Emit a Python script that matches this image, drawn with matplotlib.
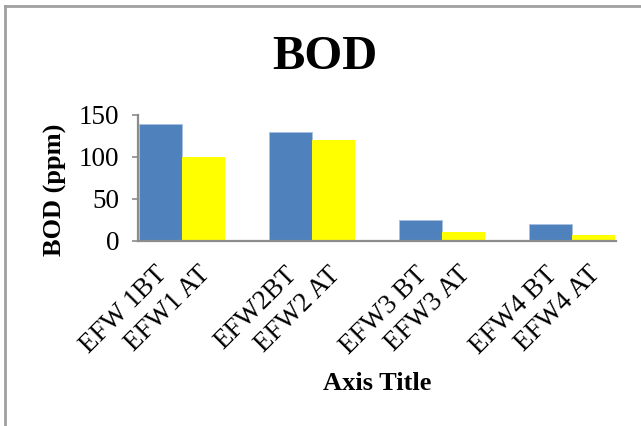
import matplotlib
matplotlib.use("Agg")
import matplotlib.pyplot as plt
import matplotlib.transforms as mtransforms
import numpy as np

# ── Données ────────────────────────────────────────────────────────────────────
echantillons = ["EFW1", "EFW2", "EFW3", "EFW4"]
bod_avant = [139, 130, 25, 20]     # BT (avant traitement)
bod_apres = [100, 120, 11, 7]      # AT (après traitement)
etiquettes = ["EFW 1BT", "EFW1 AT", "EFW2BT", "EFW2 AT",
              "EFW3 BT", "EFW3 AT", "EFW4 BT", "EFW4 AT"]
graduations_y = [0, 50, 100, 150]

BLEU = "#4F81BD"
JAUNE = "#FFFF00"
GRIS = "#8C8C8C"

plt.rcParams["font.family"] = ["Liberation Serif", "DejaVu Serif"]

W, H = 641, 426
fig = plt.figure(figsize=(W / 100, H / 100), dpi=100)

# axes en pixels : x 138 → 616, y 115 → 241 (depuis le haut)
ax = fig.add_axes([138 / W, (H - 241) / H, (616 - 138) / W, (241 - 115) / H])

x = np.arange(len(echantillons))
larg = 0.33
ax.bar(x - larg / 2, bod_avant, width=larg, color=BLEU,
       edgecolor="#A9C1E0", linewidth=0.6, zorder=2)
ax.bar(x + larg / 2, bod_apres, width=larg, color=JAUNE, linewidth=0, zorder=2)

ax.set_xlim(-0.34, len(echantillons) - 1 + 0.34)
ax.set_ylim(0, 150)
ax.set_yticks(graduations_y)
ax.tick_params(axis="y", labelsize=19.5, length=4.5, width=1.2, color=GRIS, pad=9)

positions = np.ravel(np.column_stack([x - larg / 2, x + larg / 2]))
ax.set_xticks(positions)
ax.set_xticklabels(etiquettes, rotation=45, ha="right",
                   rotation_mode="anchor", fontsize=19.5)
ax.tick_params(axis="x", length=0, pad=15)
# léger décalage vers la gauche des étiquettes inclinées
decal = mtransforms.ScaledTranslation(-6 / 100, 0, fig.dpi_scale_trans)
for lbl in ax.get_xticklabels():
    lbl.set_transform(lbl.get_transform() + decal)

for cote in ("top", "right"):
    ax.spines[cote].set_visible(False)
for cote in ("left", "bottom"):
    ax.spines[cote].set_color(GRIS)
    ax.spines[cote].set_linewidth(1.6)

# titres
fig.text(325 / W, 1 - 57 / H, "BOD", ha="center", va="center",
         fontsize=35, fontweight="bold")
fig.text(55 / W, 1 - 190 / H, "BOD (ppm)", ha="center", va="center",
         rotation=90, fontsize=19, fontweight="bold")
fig.text(377 / W, 1 - 383 / H, "Axis Title", ha="center", va="center",
         fontsize=19, fontweight="bold")

# cadre du graphique (haut et gauche seulement visibles)
fig.add_artist(plt.Line2D([5 / W, 5 / W], [0, 1 - 6 / H],
                          transform=fig.transFigure, color="#A0A0A0", lw=2))
fig.add_artist(plt.Line2D([5 / W, 1], [1 - 6 / H, 1 - 6 / H],
                          transform=fig.transFigure, color="#A0A0A0", lw=2))

fig.savefig("out.png", dpi=100, facecolor="white")
